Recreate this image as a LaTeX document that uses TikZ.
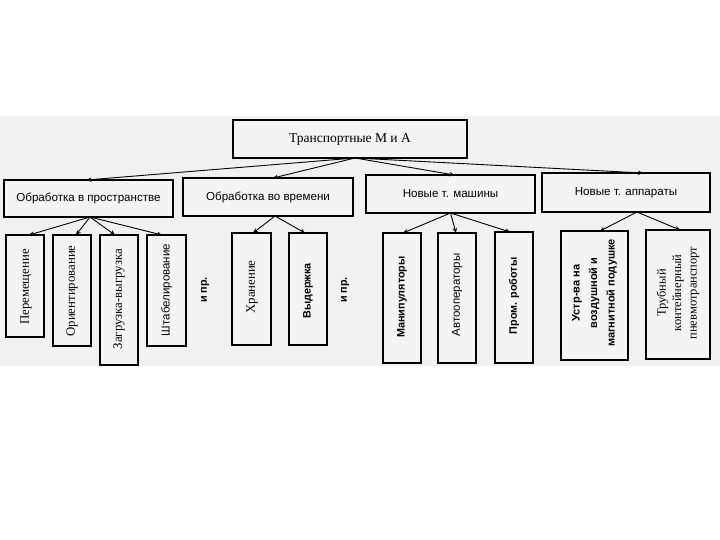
\documentclass[tikz,border=0pt]{standalone}
\usepackage{fontspec}
\setmainfont{Liberation Serif}
\setsansfont{Liberation Sans}
\usetikzlibrary{arrows.meta}
\definecolor{bgc}{HTML}{F1F1F1}
\definecolor{boxc}{HTML}{F4F4F4}
\begin{document}
\begin{tikzpicture}[x=1pt,y=-1pt,
  box/.style={draw=black, line width=1.1pt, fill=boxc, inner sep=0pt, outer sep=0pt},
  lvltwo/.style={box, font=\sffamily\fontsize{11.6}{13}\selectfont},
  rtxt/.style={rotate=90, inner sep=0pt, align=center, font=\fontsize{12.8}{15}\selectfont},
  rtxtsf/.style={rotate=90, inner sep=0pt, align=center, font=\sffamily\fontsize{11.5}{13}\selectfont},
  rtxtsb/.style={rotate=90, inner sep=0pt, align=center, font=\sffamily\bfseries\fontsize{10.8}{13}\selectfont},
  arr/.style={-{Stealth[length=5pt,width=4.5pt]}, line width=0.9pt}]
\useasboundingbox (0,0) rectangle (720,540);
\fill[white] (0,0) rectangle (720,540);
\fill[bgc] (0,116) rectangle (720,366);
% top
\node[box, minimum width=234, minimum height=38, font=\fontsize{13.5}{15}\selectfont] (top) at (350,139) {Транспортные М и А};
% level 2
\node[lvltwo, minimum width=169, minimum height=37] (b1) at (88.5,198.5) {Обработка в пространстве};
\node[lvltwo, minimum width=170, minimum height=38] (b2) at (268,197) {Обработка во времени};
\node[lvltwo, minimum width=169, minimum height=38] (b3) at (450.5,194) {Новые т. машины};
\node[lvltwo, minimum width=168, minimum height=39] (b4) at (626,192.5) {Новые т. аппараты};
% level 3 boxes
\node[box, minimum width=38, minimum height=102] (c11) at (25,286) {};
\node[box, minimum width=38, minimum height=111] (c12) at (72,290.5) {};
\node[box, minimum width=38, minimum height=130] (c13) at (119,300) {};
\node[box, minimum width=39, minimum height=111] (c14) at (166.5,290.5) {};
\node[box, minimum width=39, minimum height=112] (c21) at (251.5,289) {};
\node[box, minimum width=38, minimum height=112] (c22) at (308,289) {};
\node[box, minimum width=38, minimum height=130] (c31) at (402,298) {};
\node[box, minimum width=38, minimum height=130] (c32) at (457,298) {};
\node[box, minimum width=38, minimum height=131] (c33) at (514,297.5) {};
\node[box, minimum width=67, minimum height=129] (c41) at (594.5,295.5) {};
\node[box, minimum width=64, minimum height=129] (c42) at (678,294.5) {};
% level 3 texts
\node[rtxt] (t11) at (26,287) {Перемещение};
\node[rtxt] (t12) at (72,291) {Ориентирование};
\node[rtxt] (t13) at (119,299) {Загрузка-выгрузка};
\node[rtxtsf] (t14) at (166.5,290) {Штабелирование};
\node[rtxtsb] (ip1) at (205,290) {и пр.};
\node[rtxt] (t21) at (252,287) {Хранение};
\node[rtxtsb] (t22) at (308,291) {Выдержка};
\node[rtxtsb] (ip2) at (345,290) {и пр.};
\node[rtxtsb] (t31) at (402,297) {Манипуляторы};
\node[rtxtsf] (t32) at (457,295) {Автооператоры};
\node[rtxtsb] (t33) at (514,296) {Пром. роботы};
\node[rtxtsb, font=\sffamily\bfseries\fontsize{11}{17.5}\selectfont] (t41) at (594.5,293) {Устр-ва на\\воздушной и\\магнитной подушке};
\node[rtxt, font=\fontsize{12.5}{15.5}\selectfont] (t42) at (678,293) {Трубный\\контейнерный\\пневмотранспорт};
% arrows level 1 -> 2
\coordinate (s0) at ([xshift=5pt]top.south);
\draw[arr] (s0) -- ([xshift=-2pt]b1.north);
\draw[arr] (s0) -- ([xshift=5pt]b2.north);
\draw[arr] (s0) -- ([xshift=4pt]b3.north);
\draw[arr] (s0) -- ([xshift=17pt]b4.north);
% arrows level 2 -> 3
\coordinate (s1) at ([xshift=1.5pt]b1.south);
\draw[arr] (s1) -- ([xshift=4pt]c11.north);
\draw[arr] (s1) -- ([xshift=4pt]c12.north);
\draw[arr] (s1) -- ([xshift=-4pt]c13.north);
\draw[arr] (s1) -- ([xshift=-4.5pt]c14.north);
\coordinate (s2) at ([xshift=7pt]b2.south);
\draw[arr] (s2) -- ([xshift=1.5pt]c21.north);
\draw[arr] (s2) -- ([xshift=-3pt]c22.north);
\coordinate (s3) at (b3.south);
\draw[arr] (s3) -- ([xshift=1pt]c31.north);
\draw[arr] (s3) -- ([xshift=-1pt]c32.north);
\draw[arr] (s3) -- ([xshift=-4pt]c33.north);
\coordinate (s4) at ([xshift=11pt]b4.south);
\draw[arr] (s4) -- ([xshift=5.5pt]c41.north);
\draw[arr] (s4) -- ([xshift=2pt]c42.north);
\end{tikzpicture}
\end{document}
